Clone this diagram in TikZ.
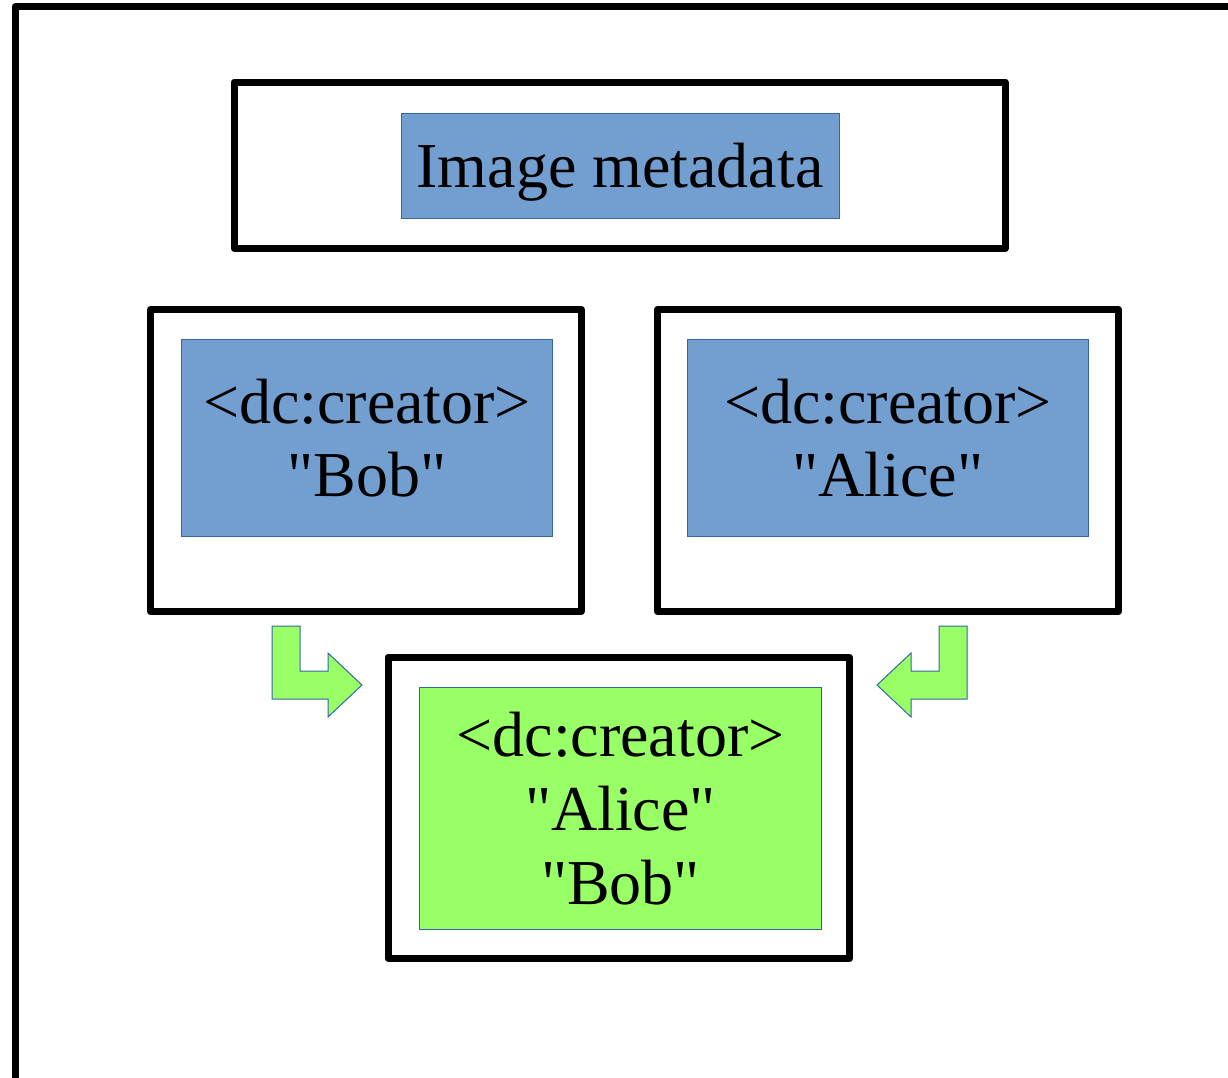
\documentclass[tikz,border=0pt]{standalone}
\usepackage{fontspec}
\newfontfamily\libserif{Liberation Serif}
\definecolor{boxblue}{HTML}{729FCF}
\definecolor{edgeblue}{HTML}{3465A4}
\definecolor{boxgreen}{HTML}{99FF66}
\begin{document}
\begin{tikzpicture}[x=1pt,y=-1pt,
  frame/.style={draw=black,line width=7pt,line join=round},
  blue/.style={draw=edgeblue,fill=boxblue,line width=1pt,inner sep=0pt,align=center,
     font=\libserif\fontsize{64}{73.6}\selectfont,anchor=north west},
  green/.style={blue,fill=boxgreen},
  bentarrow/.style={draw=edgeblue,fill=boxgreen,line width=1pt,line join=miter}]
\useasboundingbox (0,0) rectangle (1228,1077);
\clip (0,0) rectangle (1228,1077);
% outer frame
\draw[frame] (15,6.5) rectangle (1300,1200);
% top container
\draw[frame] (234,82) rectangle (1005,248.5);
\node[blue,minimum width=438pt,minimum height=105pt,text height=57pt,text depth=14pt] (meta) at (400.5,113) {Image metadata};
% left container
\draw[frame] (150.5,309.5) rectangle (581,611.5);
\node[blue,minimum width=371pt,minimum height=197pt] (bob) at (181,339) {<dc:creator>\\"Bob"};
% right container
\draw[frame] (657.5,309.5) rectangle (1118.5,611.5);
\node[blue,minimum width=401pt,minimum height=197pt] (alice) at (687,339) {<dc:creator>\\"Alice"};
% bottom container
\draw[frame] (388,657) rectangle (849.5,958.5);
\node[green,minimum width=402pt,minimum height=242pt] (merged) at (419,687) {<dc:creator>\\"Alice"\\"Bob"};
% bent arrows
\draw[bentarrow] (272,626) -- (300,626) -- (300,671) -- (328,671) -- (328,653) -- (362,685)
  -- (328,717) -- (328,699) -- (272,699) -- cycle;
\draw[bentarrow] (967,626) -- (939,626) -- (939,671) -- (911,671) -- (911,653) -- (877,685)
  -- (911,717) -- (911,699) -- (967,699) -- cycle;
\end{tikzpicture}
\end{document}
